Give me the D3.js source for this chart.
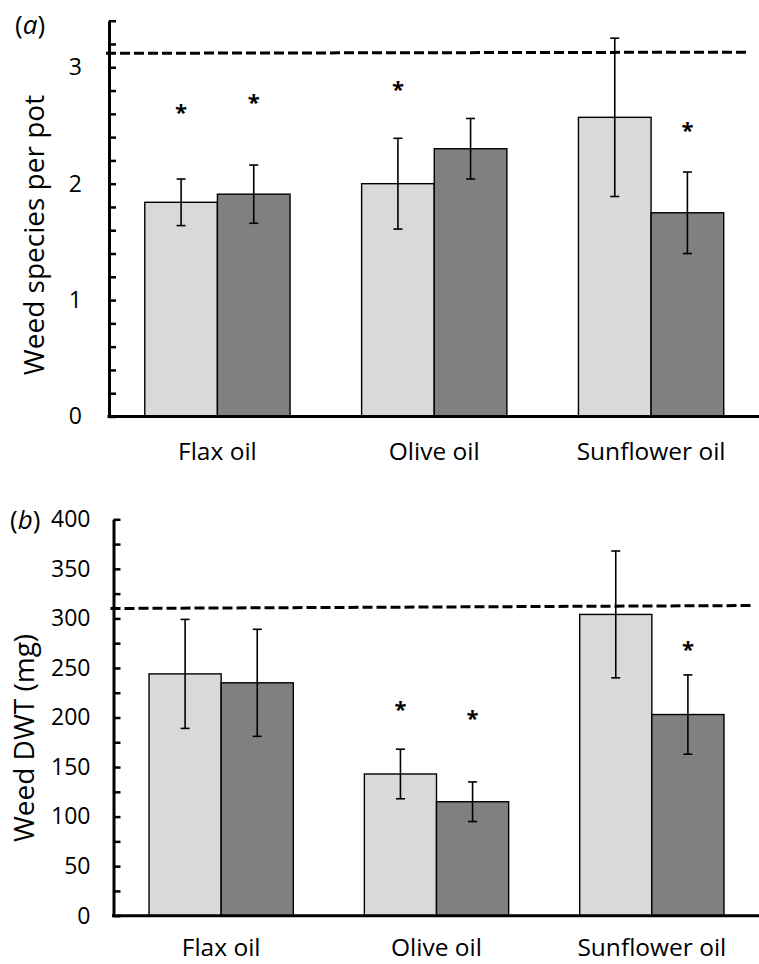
<!DOCTYPE html>
<html>
<head>
<meta charset="utf-8">
<script src="https://cdn.jsdelivr.net/npm/d3@7"></script>
<style>
  body { margin: 0; background: #fff; }
  svg text { font-family: "Open Sans", sans-serif; fill: #000; }
</style>
</head>
<body>
<svg id="chart" width="759" height="964"></svg>
<script>
const categories = ["Flax oil", "Olive oil", "Sunflower oil"];
const seriesColors = ["#d9d9d9", "#808080"];

// (a) weed species per pot
const speciesLight = [1.84, 2.00, 2.57];
const speciesDark = [1.91, 2.30, 1.75];
const speciesLightErr = [0.20, 0.39, 0.68];
const speciesDarkErr = [0.25, 0.26, 0.35];
const speciesControl = [3.12, 3.13];
const speciesStars = [["Flax oil", 0, 2.63], ["Flax oil", 1, 2.72], ["Olive oil", 0, 2.83], ["Sunflower oil", 1, 2.48]];
const speciesTicks = [0, 1, 2, 3];

// (b) weed dry weight
const dwtLight = [244, 143, 304];
const dwtDark = [235, 115, 203];
const dwtLightErr = [55, 25, 64];
const dwtDarkErr = [54, 20, 40];
const dwtControl = [310, 313];
const dwtStars = [["Olive oil", 0, 211], ["Olive oil", 1, 202], ["Sunflower oil", 1, 271]];
const dwtTicks = [0, 50, 100, 150, 200, 250, 300, 350, 400];

const svg = d3.select("#chart");

function drawPanel(opt) {
    const g = svg.append("g");

    const y = d3.scaleLinear().domain([0, opt.max]).range([opt.base, opt.top]);
    const x0 = d3.scaleBand().domain(categories).range([opt.left, 759.5])
        .paddingInner(0.33).paddingOuter(0.165);
    const x1 = d3.scaleBand().domain([0, 1]).range([0, x0.bandwidth()]);

    const rows = categories.map((c, i) => ({
        cat: c,
        vals: [opt.light[i], opt.dark[i]],
        errs: [opt.lightErr[i], opt.darkErr[i]]
    }));

    // bars
    rows.forEach(r => {
        r.vals.forEach((v, s) => {
            const bx = x0(r.cat) + x1(s);
            g.append("rect")
                .attr("x", bx)
                .attr("y", y(v))
                .attr("width", x1.bandwidth())
                .attr("height", y(0) - y(v))
                .attr("fill", seriesColors[s])
                .attr("stroke", "#000")
                .attr("stroke-width", 1.4);
        });
    });

    // error bars
    rows.forEach(r => {
        r.vals.forEach((v, s) => {
            const cx = x0(r.cat) + x1(s) + x1.bandwidth() / 2;
            const hi = y(v + r.errs[s]), lo = y(v - r.errs[s]);
            g.append("line").attr("x1", cx).attr("x2", cx).attr("y1", hi).attr("y2", lo)
                .attr("stroke", "#000").attr("stroke-width", 1.6);
            [hi, lo].forEach(yy => {
                g.append("line").attr("x1", cx - 4.5).attr("x2", cx + 4.5).attr("y1", yy).attr("y2", yy)
                    .attr("stroke", "#000").attr("stroke-width", 1.6);
            });
        });
    });

    // asterisks
    opt.stars.forEach(st => {
        const cx = x0(st[0]) + x1(st[1]) + x1.bandwidth() / 2;
        g.append("text")
            .attr("x", cx)
            .attr("y", y(st[2]) + 10)
            .attr("text-anchor", "middle")
            .attr("font-weight", "bold")
            .attr("font-size", 22)
            .text("*");
    });

    // control level (dashed)
    g.append("line")
        .attr("x1", opt.left - 3).attr("x2", opt.dashEnd)
        .attr("y1", y(opt.control[0])).attr("y2", y(opt.control[1]))
        .attr("stroke", "#000").attr("stroke-width", 3)
        .attr("stroke-dasharray", "10,4");

    // y axis: inward ticks
    const ticksAll = d3.range(0, opt.max + opt.minor / 2, opt.minor);
    const axR = g.append("g")
        .attr("transform", "translate(" + opt.left + ",0)")
        .call(d3.axisRight(y).tickValues(ticksAll).tickSize(7).tickSizeOuter(0).tickFormat(""));
    axR.select(".domain").attr("stroke-width", 3);
    axR.selectAll(".tick line").attr("stroke-width", 2.5);

    const axL = g.append("g")
        .attr("transform", "translate(" + opt.left + ",0)")
        .call(d3.axisLeft(y).tickValues(opt.ticks).tickSize(0).tickPadding(opt.labelPad).tickFormat(d3.format("d")));
    axL.select(".domain").remove();
    axL.selectAll("text").attr("font-size", 23).attr("font-family", "Open Sans, sans-serif");

    // x axis
    const axB = g.append("g")
        .attr("transform", "translate(0," + opt.base + ")")
        .call(d3.axisBottom(x0).tickSize(0).tickSizeOuter(0).tickPadding(0));
    axB.select(".domain").attr("stroke-width", 3).attr("d", "M" + (opt.left - 1.5) + ",0H759");
    axB.selectAll("text")
        .attr("font-size", 24.5)
        .attr("font-family", "Open Sans, sans-serif")
        .attr("dy", null)
        .attr("y", opt.catLabelY);

    // y label
    g.append("text")
        .attr("transform", "translate(" + opt.yLabelX + "," + opt.yLabelY + ") rotate(-90)")
        .attr("text-anchor", "middle")
        .attr("dominant-baseline", "central")
        .attr("font-size", 28)
        .text(opt.yLabel);

    // panel letter
    const pl = g.append("text")
        .attr("x", opt.letterX)
        .attr("y", opt.letterY)
        .attr("font-size", 26);
    pl.append("tspan").text("(");
    pl.append("tspan").attr("font-style", "italic").text(opt.letter);
    pl.append("tspan").text(")");
}

drawPanel({
    light: speciesLight, dark: speciesDark,
    lightErr: speciesLightErr, darkErr: speciesDarkErr,
    control: speciesControl, stars: speciesStars,
    ticks: speciesTicks, max: 3.4, minor: 0.2,
    left: 109, base: 416.5, top: 20.7,
    labelPad: 27, dashEnd: 750, catLabelY: 43,
    yLabel: "Weed species per pot", yLabelX: 33, yLabelY: 235,
    letter: "a", letterX: 15, letterY: 34
});

drawPanel({
    light: dwtLight, dark: dwtDark,
    lightErr: dwtLightErr, darkErr: dwtDarkErr,
    control: dwtControl, stars: dwtStars,
    ticks: dwtTicks, max: 400, minor: 25,
    left: 113.5, base: 915.7, top: 519.3,
    labelPad: 23, dashEnd: 753, catLabelY: 40,
    yLabel: "Weed DWT (mg)", yLabelX: 23, yLabelY: 738,
    letter: "b", letterX: 10, letterY: 529
});
</script>
</body>
</html>
